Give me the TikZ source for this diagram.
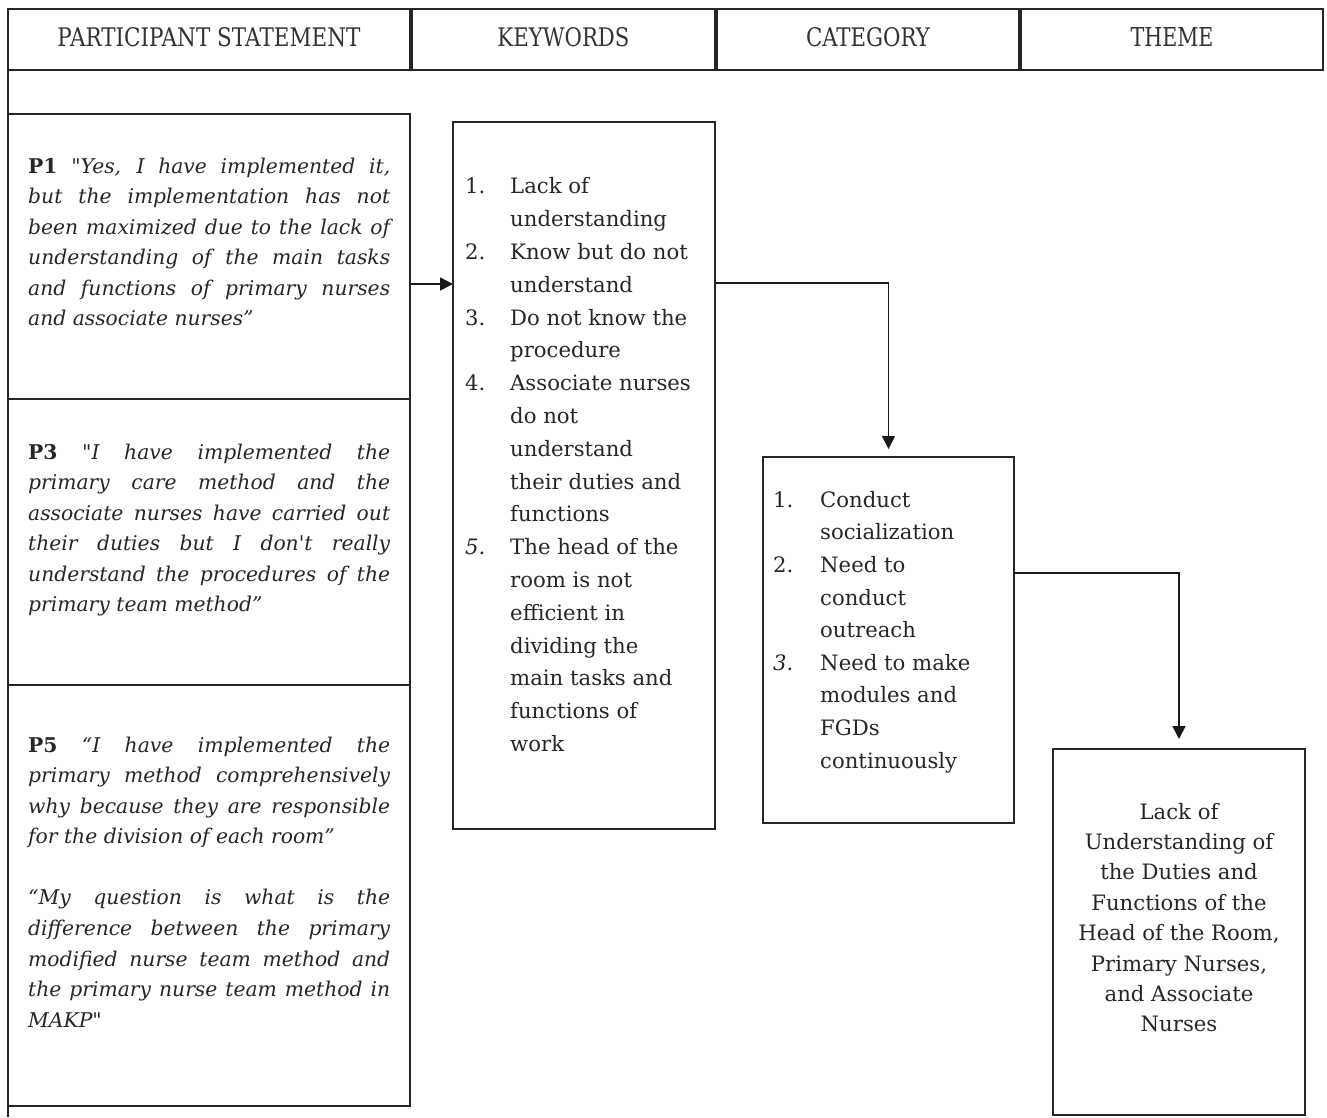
\documentclass[tikz,border=0pt]{standalone}
\usepackage{fontspec}
\setmainfont{DejaVu Serif}[Ligatures=TeXOff]
\usepackage{graphicx}
\usetikzlibrary{arrows.meta}
\newcommand\JLine[1]{\hbox to 362pt{\strut#1}}
\newcommand\KwN[1]{\strut\hbox to 45pt{#1\hfil}}
\newcommand\KwS{\strut\hspace*{45pt}}
\newcommand\CaN[1]{\strut\hbox to 47pt{#1\hfil}}
\newcommand\CaS{\strut\hspace*{47pt}}
\begin{document}
\begin{tikzpicture}[x=1pt,y=-1pt,
  box/.style={draw=black!85, line width=1.5pt, inner sep=0pt, outer sep=0pt, anchor=north west},
  hdr/.style={box, text depth=6pt, text=black!80},
  quote/.style={anchor=north west, inner sep=0pt, align=left, font=\fontsize{20.3}{30.55}\selectfont\itshape, text=black!85},
  list/.style={anchor=north west, inner sep=0pt, align=left, font=\fontsize{21.2}{32.8}\selectfont, text=black!85},
  arr/.style={draw=black!90, line width=1.5pt, -{Triangle[length=13pt,width=13pt]}},
]
\useasboundingbox (0,0) rectangle (1327,1117);

% header
\node[hdr, minimum width=402pt, minimum height=61pt] (h1) at (8,9) {\resizebox{303pt}{19pt}{PARTICIPANT STATEMENT}};
\node[hdr, minimum width=303pt, minimum height=61pt] (h2) at (412,9) {\resizebox{132pt}{19pt}{KEYWORDS}};
\node[hdr, minimum width=302pt, minimum height=61pt] (h3) at (717,9) {\resizebox{124pt}{19pt}{CATEGORY}};
\node[hdr, minimum width=302pt, minimum height=61pt] (h4) at (1021,9) {\resizebox{83pt}{19pt}{THEME}};

\coordinate (pageend) at (8,1117);
\draw[draw=black!85, line width=1.5pt] (h1.south west) -- (pageend);

% boxes
\node[box, minimum width=402pt, minimum height=285pt] (p1) at (8,114) {};
\node[box, minimum width=402pt, minimum height=286pt] (p3) at (8,399) {};
\node[box, minimum width=402pt, minimum height=421pt] (p5) at (8,685) {};
\node[box, minimum width=262pt, minimum height=707pt] (kw) at (453,122) {};
\node[box, minimum width=251pt, minimum height=366pt] (cat) at (763,457) {};
\node[box, minimum width=252pt, minimum height=366pt] (th) at (1053,749) {};

% quotes
\node[quote] (p1t) at (28,151.6) {%
\JLine{\textbf{\upshape P1} "Yes, I have implemented it,}\\
\JLine{but the implementation has not}\\
\JLine{been maximized due to the lack of}\\
\JLine{understanding of the main tasks}\\
\JLine{and functions of primary nurses}\\
\strut and associate nurses”};

\node[quote] (p3t) at (28,437.6) {%
\JLine{\textbf{\upshape P3} "I have implemented the}\\
\JLine{primary care method and the}\\
\JLine{associate nurses have carried out}\\
\JLine{their duties but I don't really}\\
\JLine{understand the procedures of the}\\
\strut primary team method”};

\node[quote] (p5t) at (28,730.6) {%
\JLine{\textbf{\upshape P5} “I have implemented the}\\
\JLine{primary method comprehensively}\\
\JLine{why because they are responsible}\\
\strut for the division of each room”\\[30.55pt]
\JLine{“My question is what is the}\\
\JLine{difference between the primary}\\
\JLine{modified nurse team method and}\\
\JLine{the primary nurse team method in}\\
\strut MAKP"};

% keywords
\node[list] (kwt) at (465,170.8) {%
\KwN{1.}Lack of\\
\KwS understanding\\
\KwN{2.}Know but do not\\
\KwS understand\\
\KwN{3.}Do not know the\\
\KwS procedure\\
\KwN{4.}Associate nurses\\
\KwS do not\\
\KwS understand\\
\KwS their duties and\\
\KwS functions\\
\KwN{\textit{5.}}The head of the\\
\KwS room is not\\
\KwS efficient in\\
\KwS dividing the\\
\KwS main tasks and\\
\KwS functions of\\
\KwS work};

% category
\node[list, font=\fontsize{21.2}{32.6}\selectfont] (catt) at (773,484.2) {%
\CaN{1.}Conduct\\
\CaS socialization\\
\CaN{2.}Need to\\
\CaS conduct\\
\CaS outreach\\
\CaN{\textit{3.}}Need to make\\
\CaS modules and\\
\CaS FGDs\\
\CaS continuously};

% theme
\node[anchor=north, inner sep=0pt, align=center, font=\fontsize{21.2}{30.4}\selectfont, text=black!85] (tht) at (1179,797.6) {%
\strut Lack of\\
\strut Understanding of\\
\strut the Duties and\\
\strut Functions of the\\
\strut Head of the Room,\\
\strut Primary Nurses,\\
\strut and Associate\\
\strut Nurses};

% arrows
\coordinate (a1) at (0,284);
\coordinate (a2) at (0,283);
\coordinate (a3) at (0,573);
\draw[arr] (a1 -| p1.east) -- (a1 -| kw.west);
\draw[arr, shorten >=8pt] (a2 -| kw.east) -| (cat.north);
\draw[arr, shorten >=10pt] (a3 -| cat.east) -| (th.north);
\end{tikzpicture}
\end{document}
